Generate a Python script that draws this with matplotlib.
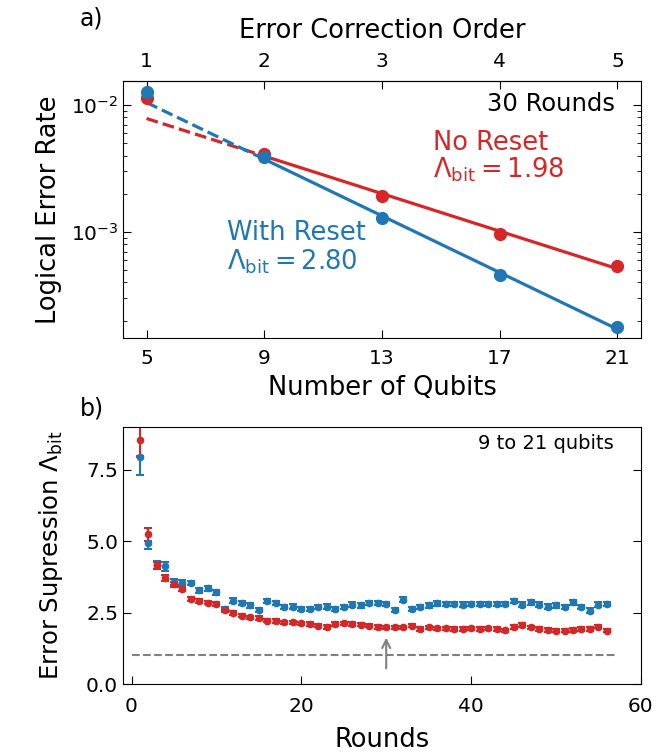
import numpy as np
import matplotlib
matplotlib.use("Agg")
import matplotlib.pyplot as plt

# panel a) logical error rate at 30 rounds
qubits = [5, 9, 13, 17, 21]
no_reset = [1.14e-2, 4.15e-3, 1.93e-3, 9.6e-4, 5.4e-4]
with_reset = [1.28e-2, 3.88e-3, 1.30e-3, 4.6e-4, 1.78e-4]
orders = [1, 2, 3, 4, 5]

# panel b) error suppression vs rounds
rounds = list(range(1, 57))
lam_reset = [7.96, 4.93, 4.17, 4.12, 3.57, 3.55, 3.53, 3.28, 3.35, 3.21,
             2.62, 2.92, 2.83, 2.75, 2.59, 2.90, 2.83, 2.69, 2.71, 2.63,
             2.63, 2.69, 2.71, 2.63, 2.69, 2.78, 2.75, 2.83, 2.83, 2.80,
             2.59, 2.95, 2.63, 2.69, 2.75, 2.82, 2.80, 2.80, 2.78, 2.80,
             2.80, 2.80, 2.80, 2.80, 2.90, 2.78, 2.86, 2.78, 2.71, 2.75,
             2.69, 2.86, 2.69, 2.57, 2.78, 2.80]
lam_noreset = [8.56, 5.25, 4.15, 3.72, 3.49, 3.33, 2.98, 2.91, 2.85, 2.80,
               2.58, 2.48, 2.39, 2.33, 2.31, 2.22, 2.20, 2.16, 2.16, 2.12,
               2.10, 2.04, 2.00, 2.10, 2.12, 2.10, 2.08, 2.04, 2.00, 1.98,
               1.98, 1.98, 2.04, 1.92, 1.98, 1.95, 1.95, 1.92, 1.92, 1.95,
               1.92, 1.95, 1.92, 1.88, 2.00, 2.06, 1.98, 1.92, 1.89, 1.87,
               1.87, 1.89, 1.92, 1.92, 2.01, 1.87]
err_reset_lo = [0.64, 0.21, 0.15, 0.15, 0.10, 0.09] + [0.08] * 50
err_reset_hi = [0.02, 0.07, 0.15, 0.15, 0.10, 0.09] + [0.08] * 50
err_noreset = [0.60, 0.23, 0.12, 0.10, 0.08, 0.08] + [0.06] * 50

blue = "#1f77b4"
red = "#d62728"
tfs = 14.5   # tick labels
lfs = 18.5   # axis labels / annotations
plt.rcParams["font.size"] = tfs
plt.rcParams["mathtext.fontset"] = "dejavusans"

fig = plt.figure(figsize=(6.7, 7.52), dpi=100)
ax1 = fig.add_axes([0.1836, 0.5505, 0.773, 0.3418])
ax2 = fig.add_axes([0.1836, 0.0904, 0.773, 0.3418])

# ---- panel a
q = np.array(qubits)
for vals, col in [(no_reset, red), (with_reset, blue)]:
    p = np.polyfit(q[1:], np.log(vals[1:]), 1)
    xs = np.array([9, 21])
    ax1.plot(xs, np.exp(np.polyval(p, xs)), color=col, lw=2.3)
    xd = np.array([5, 9])
    ax1.plot(xd, np.exp(np.polyval(p, xd)), color=col, lw=2.3, ls="--")
ax1.plot(qubits, no_reset, "o", color=red, ms=8.5)
ax1.plot(qubits, with_reset, "o", color=blue, ms=8.5)
ax1.set_yscale("log")
ax1.set_xlim(4.2, 21.8)
ax1.set_ylim(1.46e-4, 1.55e-2)
ax1.set_xticks(qubits)
ax1.set_xlabel("Number of Qubits", fontsize=lfs, labelpad=5)
ax1.set_ylabel("Logical Error Rate", fontsize=lfs, labelpad=6)
ax1.tick_params(which="both", direction="in", right=True)
ax1.tick_params(which="major", length=6)
ax1.tick_params(axis="x", pad=8)
ax1.tick_params(which="minor", length=3)
sec = ax1.secondary_xaxis("top", functions=(lambda x: (x - 1) / 4, lambda o: 4 * o + 1))
sec.set_xticks(orders)
sec.tick_params(direction="in", length=6, pad=7)
sec.set_xlabel("Error Correction Order", fontsize=lfs, labelpad=10)

ax1.text(0.95, 0.91, "30 Rounds", transform=ax1.transAxes, ha="right", va="center",
         fontsize=17.5)
ax1.text(0.598, 0.759, "No Reset", color=red, transform=ax1.transAxes, va="center",
         fontsize=lfs)
ax1.text(0.598, 0.654, r"$\Lambda_{\mathrm{bit}} = 1.98$", color=red,
         transform=ax1.transAxes, va="center", fontsize=lfs)
ax1.text(0.2, 0.409, "With Reset", color=blue, transform=ax1.transAxes, va="center",
         fontsize=lfs)
ax1.text(0.2, 0.296, r"$\Lambda_{\mathrm{bit}} = 2.80$", color=blue,
         transform=ax1.transAxes, va="center", fontsize=lfs)

# ---- panel b
ax2.hlines(1.0, 0, 57, colors="grey", linestyles="--", lw=1.5)
ax2.errorbar(rounds, lam_reset, yerr=[err_reset_lo, err_reset_hi], fmt="o",
             color=blue, ms=4.5, lw=1.5, capsize=3, capthick=1.5)
ax2.errorbar(rounds, lam_noreset, yerr=err_noreset, fmt="o",
             color=red, ms=4.5, lw=1.5, capsize=3, capthick=1.5)
ax2.annotate("", xy=(30, 1.72), xytext=(30, 0.45),
             arrowprops=dict(arrowstyle="->", color="grey", lw=1.5))
ax2.set_xlim(-1, 60)
ax2.set_ylim(0, 9)
ax2.set_yticks([0, 2.5, 5, 7.5])
ax2.set_xticks([0, 20, 40, 60])
ax2.set_xlabel("Rounds", fontsize=lfs, labelpad=8)
ax2.set_ylabel(r"Error Supression $\Lambda_{\mathrm{bit}}$", fontsize=17.5, labelpad=15)
ax2.tick_params(direction="in", right=True, length=6)
ax2.tick_params(axis="x", pad=9)
ax2.text(0.948, 0.934, "9 to 21 qubits", transform=ax2.transAxes, ha="right",
         va="center", fontsize=14)

fig.text(0.137, 0.976, "a)", ha="center", va="center", fontsize=17)
fig.text(0.137, 0.457, "b)", ha="center", va="center", fontsize=17)

fig.savefig("out.png", dpi=100)
